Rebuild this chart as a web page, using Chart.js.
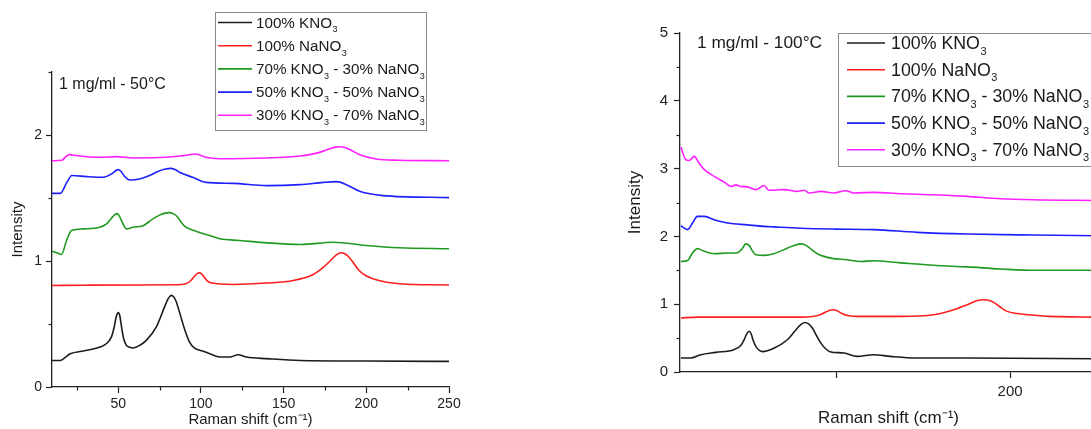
<!DOCTYPE html>
<html>
<head>
<meta charset="utf-8">
<script src="https://cdn.jsdelivr.net/npm/chart.js@4.4.0/dist/chart.umd.min.js"></script>
<style>
  html, body { margin: 0; padding: 0; background: #fff; overflow: hidden; }
  #wrap { position: relative; width: 1091px; height: 429px; overflow: hidden; }
  #left { position: absolute; left: 0; top: 0; }
  #right { position: absolute; left: 590px; top: 0; }
</style>
</head>
<body>
<div id="wrap">
  <canvas id="left" width="480" height="429"></canvas>
  <canvas id="right" width="530" height="429"></canvas>
</div>
<script>
const FONT = '"Liberation Sans", Arial, sans-serif';

const seriesNames = ['100% KNO₃', '100% NaNO₃', '70% KNO₃ - 30% NaNO₃', '50% KNO₃ - 50% NaNO₃', '30% KNO₃ - 70% NaNO₃'];
const seriesColors = ['#1c1c1c', '#ff1f1f', '#1f991f', '#1f1fff', '#ff1fff'];

// 50 °C spectra, [Raman shift, intensity]
const kno3_50 = [[10,0.21],[15,0.21],[18,0.235],[21,0.264],[29,0.286],[39,0.317],[43,0.345],[46,0.40],[47.5,0.47],[48.8,0.555],[50,0.59],[51,0.565],[52,0.48],[53.3,0.385],[55,0.33],[57,0.315],[59,0.31],[63,0.33],[67,0.37],[73,0.475],[78,0.634],[80,0.695],[81.3,0.72],[82.3,0.727],[83.5,0.716],[85,0.68],[86.5,0.62],[88.5,0.53],[90.5,0.445],[93,0.36],[96,0.31],[101,0.286],[105.4,0.264],[111.5,0.238],[117.5,0.238],[122.5,0.256],[127.6,0.238],[140,0.225],[160,0.21],[200,0.206],[250,0.203]];
const nano3_50 = [[10,0.806],[30,0.808],[60,0.81],[85,0.812],[91,0.82],[94,0.845],[96.5,0.885],[98,0.902],[99,0.906],[100.3,0.9],[102,0.872],[104,0.84],[106.4,0.825],[119.5,0.814],[140,0.825],[155.8,0.845],[167.9,0.893],[174,0.95],[178,0.998],[181,1.038],[183,1.058],[185,1.065],[187,1.058],[189,1.038],[192,0.99],[195,0.935],[198,0.898],[206,0.851],[220,0.82],[250,0.81]];
const mix73_50 = [[10,1.078],[13,1.065],[15.8,1.052],[18.8,1.163],[21.8,1.242],[29,1.255],[38.9,1.268],[43,1.295],[46,1.34],[47.8,1.366],[49.2,1.376],[50.5,1.362],[52,1.32],[53.5,1.28],[55,1.255],[59,1.268],[65,1.28],[71,1.334],[75,1.364],[78.5,1.38],[81,1.384],[83.5,1.374],[85.5,1.355],[88,1.31],[90.5,1.272],[97,1.236],[105.4,1.202],[111.5,1.176],[123.5,1.163],[140,1.144],[160,1.131],[180,1.149],[200,1.123],[220,1.105],[250,1.097]];
const mix55_50 = [[10,1.537],[15,1.537],[19,1.624],[22,1.678],[31,1.67],[41,1.665],[46,1.691],[48.5,1.716],[50,1.725],[51.5,1.714],[54,1.67],[57,1.643],[63,1.651],[69,1.678],[74,1.71],[78,1.728],[82,1.735],[85,1.722],[87,1.704],[95,1.665],[103,1.624],[119.5,1.616],[140,1.598],[160,1.606],[174,1.624],[182,1.63],[188,1.606],[196,1.553],[210,1.519],[250,1.503]];
const mix37_50 = [[10,1.796],[16,1.80],[18.5,1.83],[20.5,1.844],[25,1.836],[39,1.823],[49,1.828],[59,1.818],[79,1.823],[89,1.836],[97,1.849],[103,1.823],[111,1.812],[140,1.818],[160,1.833],[168,1.85],[174,1.872],[178.5,1.893],[181.5,1.904],[184,1.907],[187,1.9],[190,1.885],[196,1.844],[206,1.81],[220,1.80],[250,1.796]];

// 100 °C spectra
const kno3_100 = [[10.5,0.206],[16,0.206],[22,0.255],[30.6,0.29],[41,0.33],[45,0.39],[46.8,0.47],[48.5,0.565],[49.8,0.60],[51,0.56],[52.2,0.46],[53.8,0.37],[57.5,0.30],[64,0.35],[71.8,0.476],[76,0.6],[79.3,0.695],[81.8,0.73],[84,0.71],[86.3,0.645],[88.5,0.54],[91,0.43],[93.5,0.35],[96.3,0.30],[104.4,0.28],[112,0.23],[121.6,0.255],[131,0.23],[146,0.206],[175,0.206],[250,0.196]];
const nano3_100 = [[10.5,0.796],[20,0.81],[80,0.81],[88,0.825],[92,0.86],[95.5,0.905],[98,0.919],[100.5,0.905],[103.5,0.858],[107,0.83],[112,0.82],[137,0.82],[156,0.845],[167.6,0.919],[175.3,0.993],[180,1.045],[183,1.062],[185,1.066],[187.5,1.058],[191,1.02],[194.5,0.955],[198.3,0.894],[204,0.862],[210,0.845],[223,0.82],[250,0.81]];
const mix73_100 = [[10.5,1.63],[14.4,1.645],[17.2,1.755],[20,1.82],[24,1.78],[29.7,1.745],[37.4,1.755],[43,1.76],[45.5,1.81],[47.9,1.89],[50,1.86],[51.8,1.78],[53.6,1.73],[58.4,1.72],[64,1.745],[72,1.83],[76,1.87],[79.5,1.89],[82,1.875],[84.5,1.83],[89,1.745],[96.8,1.68],[106,1.655],[114,1.63],[121.6,1.64],[137,1.61],[156,1.575],[175.3,1.55],[194.5,1.52],[213.6,1.50],[250,1.50]];
const mix55_100 = [[10.5,2.158],[14.4,2.10],[17.2,2.197],[20,2.295],[24,2.295],[29.7,2.246],[37.4,2.197],[48.8,2.17],[58.4,2.148],[64,2.14],[79.5,2.12],[98.6,2.108],[121.6,2.10],[146.5,2.06],[175.3,2.035],[213.6,2.02],[250,2.01]];
const mix37_100 = [[10.5,3.318],[13.4,3.13],[15.3,3.12],[18.2,3.18],[21,3.08],[24,2.984],[29.7,2.885],[35.5,2.80],[39.3,2.737],[42.2,2.76],[45,2.737],[48.8,2.73],[53.6,2.69],[58.4,2.75],[61,2.68],[70,2.69],[77.6,2.664],[81.5,2.68],[84.4,2.64],[91,2.664],[98.6,2.64],[105.4,2.674],[110,2.64],[121.6,2.65],[137,2.63],[156,2.615],[175.3,2.59],[194.5,2.555],[213.6,2.54],[250,2.53]];

// axis ticks
const leftXTicks = [50, 100, 150, 200, 250];
const leftXMinor = [25, 75, 125, 175, 225];
const leftYTicks = [0, 1, 2];
const leftYMinor = [0.5, 1.5, 2.5];
const rightXTicks = [100, 200];
const rightXLabeled = [200];
const rightYTicks = [0, 1, 2, 3, 4, 5];
const rightYMinor = [0.5, 1.5, 2.5, 3.5, 4.5];

// text with ₃ drawn as a lowered small 3
function drawRich(ctx, text, x, y, size) {
  let cx = x;
  ctx.textBaseline = 'middle';
  ctx.textAlign = 'left';
  for (const part of text.split(/(₃)/)) {
    if (!part) continue;
    if (part === '₃') {
      ctx.font = Math.round(size * 0.6) + 'px ' + FONT;
      ctx.fillText('3', cx + 0.5, y + size * 0.42);
      cx += ctx.measureText('3').width + 0.5;
    } else {
      ctx.font = size + 'px ' + FONT;
      ctx.fillText(part, cx, y);
      cx += ctx.measureText(part).width;
    }
  }
}

const boxLegend = {
  id: 'boxLegend',
  afterDraw(chart, args, o) {
    const ctx = chart.ctx;
    ctx.save();
    ctx.strokeStyle = '#8a8a8a';
    ctx.lineWidth = 1;
    ctx.strokeRect(o.x + 0.5, o.y + 0.5, o.w, o.h);
    chart.data.datasets.forEach((ds, i) => {
      const y = o.y + o.first + i * o.gap;
      ctx.strokeStyle = ds.borderColor;
      ctx.lineWidth = 1.6;
      ctx.beginPath();
      ctx.moveTo(o.x + o.pad, y);
      ctx.lineTo(o.x + o.pad + o.sample, y);
      ctx.stroke();
      ctx.fillStyle = '#1a1a1a';
      drawRich(ctx, ds.label, o.x + o.pad + o.sample + o.space, y + 1, o.size);
    });
    // panel caption
    ctx.fillStyle = '#1a1a1a';
    drawRich(ctx, o.caption, o.capX, o.capY, o.capSize);
    ctx.restore();
  }
};

const minorTicks = {
  id: 'minorTicks',
  afterDraw(chart, args, o) {
    const ctx = chart.ctx;
    ctx.save();
    ctx.strokeStyle = '#222';
    ctx.lineWidth = 1.2;
    const xs = chart.scales.x, ys = chart.scales.y;
    (o.x || []).forEach(v => {
      const px = Math.round(xs.getPixelForValue(v)) + 0.5;
      ctx.beginPath();
      ctx.moveTo(px, xs.top);
      ctx.lineTo(px, xs.top + 3.5);
      ctx.stroke();
    });
    (o.y || []).forEach(v => {
      const py = Math.round(ys.getPixelForValue(v)) + 0.5;
      ctx.beginPath();
      ctx.moveTo(ys.right, py);
      ctx.lineTo(ys.right - 3.5, py);
      ctx.stroke();
    });
    ctx.restore();
  }
};

function makeSets(list) {
  return list.map((pts, i) => ({
    label: seriesNames[i],
    data: pts.map(p => ({ x: p[0], y: p[1] })),
    borderColor: seriesColors[i],
    borderWidth: 1.6,
    pointRadius: 0,
    cubicInterpolationMode: 'monotone',
    fill: false
  }));
}

function axis(cfg) {
  return {
    type: 'linear',
    min: cfg.min,
    max: cfg.max,
    afterBuildTicks: s => { s.ticks = cfg.ticks.map(v => ({ value: v })); },
    afterFit: s => { if (cfg.width) s.width = cfg.width; if (cfg.height) s.height = cfg.height; },
    grid: { drawOnChartArea: false, drawTicks: true, tickLength: 6, tickColor: '#222', tickWidth: 1.2 },
    border: { display: true, color: '#222', width: 1.3 },
    ticks: {
      color: '#222', padding: cfg.tickPad, autoSkip: false, maxRotation: 0,
      font: { family: FONT, size: cfg.tickSize },
      callback: cfg.label || (v => v)
    },
    title: {
      display: true, text: cfg.title, color: '#1a1a1a',
      font: { family: FONT, size: cfg.titleSize },
      padding: cfg.titlePad
    }
  };
}

Chart.defaults.font.family = FONT;

new Chart(document.getElementById('left'), {
  type: 'line',
  data: { datasets: makeSets([kno3_50, nano3_50, mix73_50, mix55_50, mix37_50]) },
  options: {
    responsive: false,
    animation: false,
    layout: { padding: { top: 72, right: 31, left: 0, bottom: 0 } },
    plugins: {
      legend: { display: false },
      tooltip: { enabled: false },
      boxLegend: { x: 215, y: 12, w: 211, h: 118, first: 10.5, gap: 23.2, pad: 3, sample: 34, space: 4, size: 15.2,
                   caption: '1 mg/ml - 50°C', capX: 59, capY: 85, capSize: 16 },
      minorTicks: { x: leftXMinor, y: leftYMinor }
    },
    scales: {
      x: axis({ min: 10, max: 250, ticks: leftXTicks, height: 42, tickPad: 3, tickSize: 14,
                title: 'Raman shift (cm⁻¹)', titleSize: 15, titlePad: 0 }),
      y: axis({ min: 0, max: 2.5, ticks: leftYTicks, width: 52, tickPad: 4, tickSize: 14,
                title: 'Intensity', titleSize: 15, titlePad: { top: 9, bottom: 0 } })
    }
  },
  plugins: [boxLegend, minorTicks]
});

new Chart(document.getElementById('right'), {
  type: 'line',
  data: { datasets: makeSets([kno3_100, nano3_100, mix73_100, mix55_100, mix37_100]) },
  options: {
    responsive: false,
    animation: false,
    layout: { padding: { top: 33, right: 23, left: 0, bottom: 0 } },
    plugins: {
      legend: { display: false },
      tooltip: { enabled: false },
      boxLegend: { x: 248, y: 33, w: 300, h: 133, first: 10, gap: 26.7, pad: 9, sample: 38, space: 6, size: 17.8,
                   caption: '1 mg/ml - 100°C', capX: 107, capY: 43, capSize: 17.3 },
      minorTicks: { y: rightYMinor }
    },
    scales: {
      x: axis({ min: 10, max: 250, ticks: rightXTicks, height: 57, tickPad: 5, tickSize: 15,
                label: v => rightXLabeled.includes(v) ? v : '',
                title: 'Raman shift (cm⁻¹)', titleSize: 17, titlePad: 0 }),
      y: axis({ min: 0, max: 5, ticks: rightYTicks, width: 90, tickPad: 6, tickSize: 15,
                title: 'Intensity', titleSize: 17, titlePad: { top: 35, bottom: 0 } })
    }
  },
  plugins: [boxLegend, minorTicks]
});
</script>
</body>
</html>
